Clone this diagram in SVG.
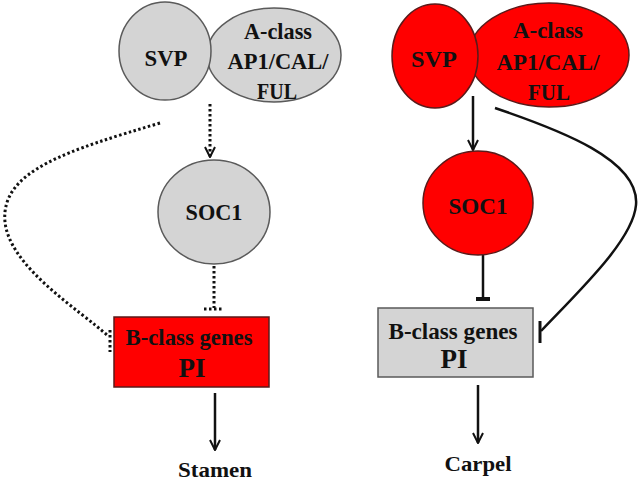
<svg xmlns="http://www.w3.org/2000/svg" width="644" height="483" viewBox="0 0 644 483">
<defs>
<style>
text{font-family:"Liberation Serif","Times New Roman",serif;font-weight:bold;fill:#111;text-anchor:middle;font-size:24px}
.g{fill:#d4d4d4;stroke:#5a5a5a;stroke-width:1.5}
.r{fill:#ff0000;stroke:#5a1a1a;stroke-width:1.5}
.dot{fill:none;stroke:#111;stroke-width:3;stroke-dasharray:2.5 2.5}
.sol{fill:none;stroke:#111;stroke-width:2.5}
.pi{font-size:27px}
.lbl{font-size:22px}
</style>
<marker id="v" viewBox="0 0 12 12" refX="11" refY="6" markerWidth="12" markerHeight="12" markerUnits="userSpaceOnUse" orient="auto">
<path d="M1,1 L11,6 L1,11" fill="none" stroke="#111" stroke-width="2"/>
</marker>
</defs>
<rect width="644" height="483" fill="#fff"/>
<g id="connectors">
<line class="dot" x1="210" y1="104" x2="210" y2="157" marker-end="url(#v)"/>
<line class="dot" x1="214" y1="266" x2="214" y2="308"/>
<line class="dot" x1="204" y1="309" x2="224" y2="309"/>
<path class="dot" d="M160,123 C70,150 0,170 5,222 C10,268 80,310 108,336"/>
<line class="dot" x1="110" y1="330" x2="110" y2="352"/>
<line class="sol" x1="215" y1="393" x2="215" y2="450" marker-end="url(#v)"/>
<line class="sol" x1="473" y1="96" x2="473" y2="150" marker-end="url(#v)"/>
<line class="sol" x1="483" y1="255" x2="483" y2="299"/>
<line x1="476" y1="299" x2="490" y2="299" stroke="#111" stroke-width="4"/>
<path class="sol" d="M495,108 C560,130 640,160 636,205 C633,240 580,290 541,331"/>
<line x1="540" y1="321" x2="540" y2="343" stroke="#111" stroke-width="3"/>
<line class="sol" x1="478" y1="385" x2="478" y2="443" marker-end="url(#v)"/>
</g>
<g id="aclass-left"><ellipse class="g" cx="274" cy="55" rx="67" ry="47"/>
<text x="278" y="39" textLength="68" lengthAdjust="spacingAndGlyphs">A-class</text>
<text x="278" y="69" textLength="101" lengthAdjust="spacingAndGlyphs">AP1/CAL/</text>
<text x="277" y="99" textLength="40" lengthAdjust="spacingAndGlyphs">FUL</text></g>
<g id="svp-left"><ellipse class="g" cx="165" cy="51" rx="46" ry="49"/><text x="166" y="66" textLength="43" lengthAdjust="spacingAndGlyphs">SVP</text></g>
<g id="soc1-left"><ellipse class="g" cx="214" cy="212" rx="56" ry="52"/><text x="214" y="220" textLength="57" lengthAdjust="spacingAndGlyphs">SOC1</text></g>
<g id="pi-left"><rect class="r" x="114" y="317" width="155" height="70"/>
<text x="189" y="345" textLength="127" lengthAdjust="spacingAndGlyphs">B-class genes</text><text class="pi" x="192" y="377" textLength="27" lengthAdjust="spacingAndGlyphs">PI</text></g>
<g id="stamen"><text class="lbl" x="215" y="477" textLength="74" lengthAdjust="spacingAndGlyphs">Stamen</text></g>
<g id="aclass-right"><ellipse class="r" cx="549" cy="55" rx="80" ry="52"/>
<text x="548" y="38" textLength="70" lengthAdjust="spacingAndGlyphs">A-class</text>
<text x="548" y="70" textLength="103" lengthAdjust="spacingAndGlyphs">AP1/CAL/</text>
<text x="549" y="100" textLength="42" lengthAdjust="spacingAndGlyphs">FUL</text></g>
<g id="svp-right"><ellipse class="r" cx="435" cy="56" rx="43" ry="52"/><text x="434" y="67" textLength="46" lengthAdjust="spacingAndGlyphs">SVP</text></g>
<g id="soc1-right"><ellipse class="r" cx="478" cy="203" rx="55" ry="52"/><text x="478" y="214" textLength="59" lengthAdjust="spacingAndGlyphs">SOC1</text></g>
<g id="pi-right"><rect class="g" x="378" y="308" width="155" height="69"/>
<text x="453" y="339" textLength="129" lengthAdjust="spacingAndGlyphs">B-class genes</text><text class="pi" x="454" y="368" textLength="27" lengthAdjust="spacingAndGlyphs">PI</text></g>
<g id="carpel"><text class="lbl" x="478" y="471" textLength="67" lengthAdjust="spacingAndGlyphs">Carpel</text></g>
</svg>
